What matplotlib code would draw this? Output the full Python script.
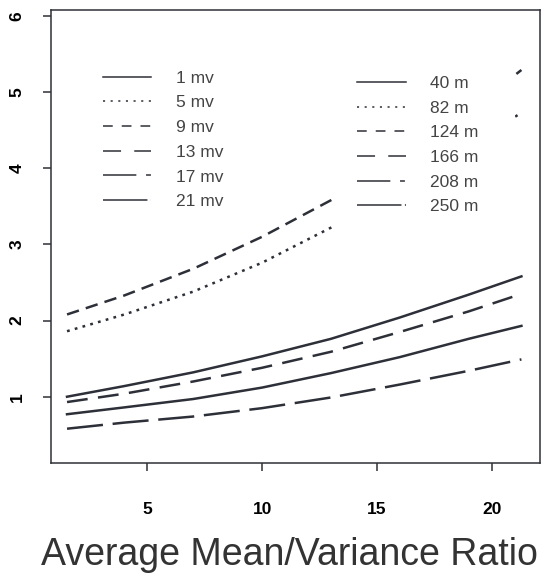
import matplotlib.pyplot as plt
from matplotlib.lines import Line2D

plt.rcParams['font.family'] = ['Liberation Sans', 'DejaVu Sans']
plt.rcParams['lines.scale_dashes'] = False

INK = '#2d3038'

# x positions (average mean/variance ratio) where curves were read
ratio = [1.5, 4, 7, 10, 13, 16, 19, 21.3]

# upper pair (right part hidden behind the white legend box)
upper_dash = [2.08, 2.33, 2.68, 3.10, 3.58, 4.12, 4.75, 5.29]
upper_dot = [1.86, 2.08, 2.38, 2.76, 3.22, 3.72, 4.28, 4.73]

# lower four curves
low_solid_a = [1.00, 1.14, 1.32, 1.53, 1.76, 2.04, 2.34, 2.58]
low_dash = [0.93, 1.04, 1.20, 1.38, 1.59, 1.85, 2.12, 2.35]
low_solid_b = [0.77, 0.86, 0.97, 1.12, 1.31, 1.52, 1.76, 1.93]
low_longdash = [0.58, 0.66, 0.74, 0.85, 0.99, 1.16, 1.34, 1.49]

mv_labels = ['1 mv', '5 mv', '9 mv', '13 mv', '17 mv', '21 mv']
m_labels = ['40 m', '82 m', '124 m', '166 m', '208 m', '250 m']

# legend line types
key_styles = ['-', (0, (1.5, 4)), (0, (7, 6.5)), (0, (13, 9.5)),
              (0, (24, 7, 3.5, 7)), (0, (32, 2.5, 1, 2.5))]

fig = plt.figure(figsize=(5.48, 5.78), dpi=100)
ax = fig.add_axes([0.093, 0.199, 0.892, 0.784])

lw = 1.8
ax.plot(ratio, upper_dash, color=INK, lw=lw, ls=(0, (9, 5.2)), dash_capstyle='butt')
ax.plot(ratio, upper_dot, color=INK, lw=lw, ls=(0, (2.0, 3.8)), dash_capstyle='butt')
ax.plot(ratio, low_solid_a, color=INK, lw=lw)
ax.plot(ratio, low_dash, color=INK, lw=lw, ls=(0, (15, 7.5)), dash_capstyle='butt')
ax.plot(ratio, low_solid_b, color=INK, lw=lw)
ax.plot(ratio, low_longdash, color=INK, lw=lw, ls=(0, (26, 7)), dash_capstyle='butt')

ax.set_xlim(0.8, 22.1)
ax.set_ylim(0.13, 6.08)
ax.set_xticks([5, 10, 15, 20])
ax.set_yticks([1, 2, 3, 4, 5, 6])
ax.tick_params(direction='out', length=6, width=1.1, color=INK, labelsize=12.5)
ax.tick_params(axis='x', pad=22)
ax.tick_params(axis='y', pad=13)
for lab in ax.get_xticklabels() + ax.get_yticklabels():
    lab.set_fontweight('bold')
for lab in ax.get_yticklabels():
    lab.set_rotation(90)
    lab.set_va('center')
for sp in ax.spines.values():
    sp.set_color(INK)
    sp.set_linewidth(1.1)

ax.set_xlabel('Average Mean/Variance Ratio', fontsize=27, color='#333333')
ax.xaxis.set_label_coords(0.487, -0.163)

def make_handles(labels):
    return [Line2D([], [], color=INK, lw=1.1, ls=s, dash_capstyle='butt', label=l)
            for s, l in zip(key_styles, labels)]

leg_kw = dict(fontsize=12.5, handlelength=2.8, handletextpad=1.4,
              labelspacing=0.55, borderaxespad=0, labelcolor='#444444')

leg1 = ax.legend(handles=make_handles(mv_labels), loc='upper left',
                 bbox_to_anchor=(0.106, 0.866), frameon=False, borderpad=0, **leg_kw)
ax.add_artist(leg1)
leg2 = ax.legend(handles=make_handles(m_labels), loc='upper left',
                 bbox_to_anchor=(0.575, 0.86, 0.374, 0.05), mode='expand',
                 frameon=True, fancybox=False, facecolor='white', edgecolor='none',
                 framealpha=1, borderpad=1.45, **leg_kw)

fig.savefig('out.png', dpi=100)
